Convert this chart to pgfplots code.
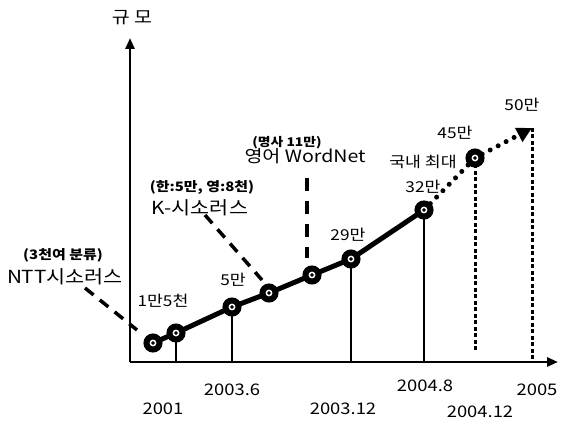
\documentclass[border=0pt]{standalone}
\usepackage{fontspec}
\setmainfont[FakeStretch=1.15]{Noto Sans CJK KR}
\usepackage{pgfplots}
\pgfplotsset{compat=1.18}
\usetikzlibrary{arrows.meta}
\begin{document}
\begin{tikzpicture}
\begin{axis}[
  width=428bp, height=324bp, scale only axis,
  xmin=0, xmax=428, ymin=0, ymax=324,
  axis lines=left,
  axis line style={line width=2.8bp, -{Triangle[length=11bp,width=9bp]}},
  xtick=\empty, ytick=\empty,
  clip=false,
]
\path (axis cs:-130,-59) rectangle (axis cs:435,362);
% drop lines
\addplot[black, line width=1.3bp] coordinates {(46,29) (46,0)};
\addplot[black, line width=1.3bp] coordinates {(102,55) (102,0)};
\addplot[black, line width=1.3bp] coordinates {(221,103) (221,0)};
\addplot[black, line width=1.3bp] coordinates {(294,152) (294,0)};
\addplot[black, line width=3bp, dash pattern=on 4bp off 2.5bp] coordinates {(345,204) (345,12)};
\addplot[black, line width=3bp, dash pattern=on 4bp off 2.5bp] coordinates {(402,234) (402,0)};
% leaders
\addplot[black, line width=3.5bp, dash pattern=on 11bp off 8bp] coordinates {(-45,74) (7,32)};
\addplot[black, line width=3.5bp, dash pattern=on 11bp off 8bp] coordinates {(75,147) (132,82)};
\addplot[black, line width=3.5bp, dash pattern=on 13bp off 10bp] coordinates {(177,184) (177,104)};
% dotted projection
\addplot[black, line width=5bp, line cap=round, dash pattern=on 0bp off 9bp, -{Triangle[length=15bp,width=15bp,sep=0pt]}]
  coordinates {(294,152) (345,204) (402,234)};
% main line
\addplot[black, line width=5bp] coordinates {(23,19) (46,29) (102,55) (139,69) (182,87) (221,103) (294,152)};
% markers
\addplot[only marks, mark=*, mark size=6.5bp, mark options={line width=6bp, draw=black, fill=white}]
  coordinates {(23,19) (46,29) (102,55) (139,69) (182,87) (221,103) (294,152) (345,204)};
\addplot[only marks, mark=*, mark size=1.6bp, mark options={fill=black, draw=black, line width=0.4bp}]
  coordinates {(23,19) (46,29) (102,55) (139,69) (182,87) (221,103) (294,152) (345,204)};
% labels
\node[font=\fontsize{17bp}{20bp}\selectfont] at (axis cs:2,344) {규 모};
\node[font=\fontsize{15bp}{18bp}\selectfont] at (axis cs:33,61) {1만5천};
\node[font=\fontsize{15bp}{18bp}\selectfont] at (axis cs:103,82) {5만};
\node[font=\fontsize{15bp}{18bp}\selectfont] at (axis cs:218,127) {29만};
\node[font=\fontsize{15bp}{18bp}\selectfont] at (axis cs:293,175) {32만};
\node[font=\fontsize{15bp}{18bp}\selectfont] at (axis cs:325,229) {45만};
\node[font=\fontsize{15bp}{18bp}\selectfont] at (axis cs:392,257) {50만};
\node[font=\fontsize{15bp}{17bp}\selectfont] at (axis cs:293,200) {국내 최대};
\node[font=\fontsize{12bp}{14bp}\selectfont\bfseries] at (axis cs:157,219) {(명사 11만)};
\node[font=\fontsize{17bp}{20bp}\selectfont] at (axis cs:175,206) {영어 WordNet};
\node[font=\fontsize{13bp}{15bp}\selectfont\bfseries] at (axis cs:72,175) {(한:5만, 영:8천)};
\node[font=\fontsize{18bp}{20bp}\selectfont] at (axis cs:70,154) {K-시소러스};
\node[font=\fontsize{13bp}{15bp}\selectfont\bfseries] at (axis cs:-67,107) {(3천여 분류)};
\node[font=\fontsize{18bp}{20bp}\selectfont] at (axis cs:-65,85) {NTT시소러스};
% tick labels
\node[font=\fontsize{16bp}{18bp}\selectfont] at (axis cs:33,-47) {2001};
\node[font=\fontsize{16bp}{18bp}\selectfont] at (axis cs:102,-28) {2003.6};
\node[font=\fontsize{16bp}{18bp}\selectfont] at (axis cs:213,-47) {2003.12};
\node[font=\fontsize{16bp}{18bp}\selectfont] at (axis cs:295,-24) {2004.8};
\node[font=\fontsize{16bp}{18bp}\selectfont] at (axis cs:350,-50) {2004.12};
\node[font=\fontsize{16bp}{18bp}\selectfont] at (axis cs:407,-28) {2005};
\end{axis}
\end{tikzpicture}
\end{document}
